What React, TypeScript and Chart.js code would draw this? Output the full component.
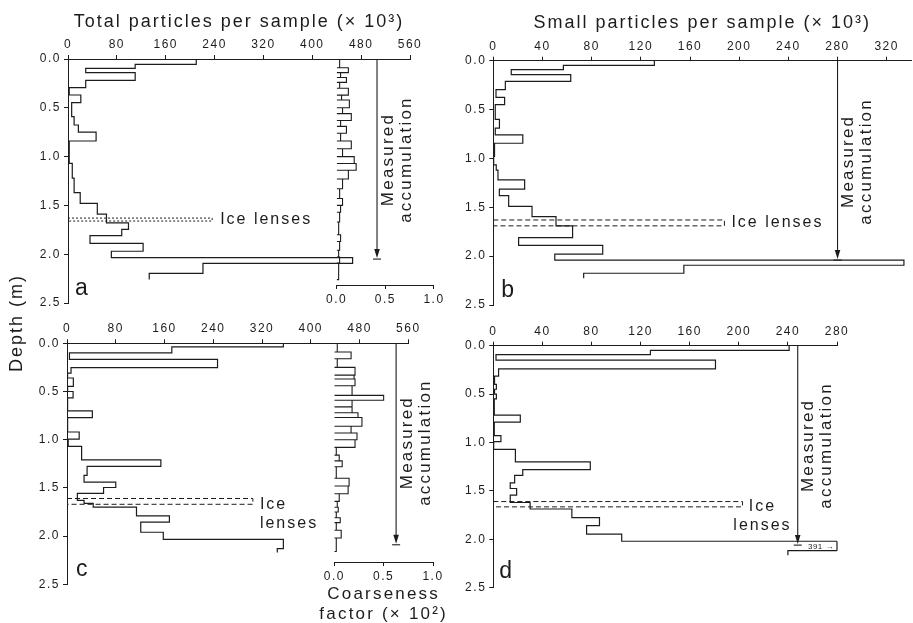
import React, { useEffect, useRef } from 'react';
import { Chart, registerables } from 'chart.js';
Chart.register(...registerables);

// ---------------- data ----------------
// Panel a: total particles per sample (x10^3) by depth interval (m)
const aBounds = [0, 0.055, 0.096, 0.14, 0.22, 0.294, 0.369, 0.447, 0.59, 0.676, 0.75, 0.84, 1.07, 1.22, 1.37, 1.48, 1.59, 1.68, 1.745, 1.81, 1.89, 1.97, 2.035, 2.093, 2.196, 2.26];
const aTotal = [210, 110, 29, 110, 29, 2, 21, 6, 10, 17, 46, 2, 7, 10, 20, 48, 63, 99, 88, 36, 123, 71, 466, 221, 133];
// Panel a: coarseness factor (x10^2)
const aCoarseBounds = [0, 0.09, 0.14, 0.19, 0.24, 0.30, 0.37, 0.42, 0.50, 0.56, 0.63, 0.69, 0.76, 0.84, 0.92, 1.00, 1.07, 1.14, 1.23, 1.33, 1.43, 1.50, 1.57, 1.67, 1.80, 1.87, 1.96, 2.03, 2.09, 2.26];
const aCoarse = [0.03, 0.12, 0.04, 0.10, 0.03, 0.12, 0.05, 0.13, 0.06, 0.15, 0.04, 0.10, 0.04, 0.15, 0.06, 0.18, 0.20, 0.12, 0.06, 0.03, 0.06, 0.04, 0.03, 0.02, 0.04, 0.03, 0.02, 0.03, 0.02];
// Panel b: small particles per sample
const bBounds = [0, 0.048, 0.092, 0.143, 0.212, 0.297, 0.376, 0.45, 0.60, 0.69, 0.76, 0.845, 0.98, 1.066, 1.12, 1.22, 1.315, 1.38, 1.49, 1.595, 1.69, 1.81, 1.89, 1.98, 2.04, 2.093, 2.175, 2.227];
const bSmall = [131, 57, 14.6, 63, 9.8, 2.2, 9.2, 1.6, 5, 1.6, 24, 1, 0.3, 2.4, 3.8, 25.5, 4.9, 12.5, 31.5, 51, 64.5, 20.6, 89, 50, 334, 155, 73.5];
// Panel c: total particles per sample
const cBounds = [0, 0.038, 0.099, 0.167, 0.253, 0.31, 0.36, 0.447, 0.5, 0.567, 0.70, 0.77, 0.92, 0.994, 1.07, 1.21, 1.277, 1.37, 1.44, 1.496, 1.557, 1.63, 1.66, 1.70, 1.79, 1.855, 1.96, 2.035, 2.13, 2.17];
const cTotal = [355, 172, 4, 247, 6.6, 1, 10.4, 1, 10, 1, 41.6, 1, 20, 2, 24, 154, 33, 28, 80, 60, 17, 28, 43, 114, 168, 121, 158, 355, 345];
// Panel c: coarseness factor
const cCoarseBounds = [0, 0.09, 0.16, 0.25, 0.33, 0.37, 0.44, 0.54, 0.59, 0.66, 0.72, 0.77, 0.86, 0.93, 1.00, 1.08, 1.16, 1.22, 1.28, 1.40, 1.48, 1.56, 1.64, 1.70, 1.75, 1.81, 1.86, 1.94, 2.02, 2.16];
const cCoarse = [0.03, 0.17, 0.03, 0.21, 0.20, 0.21, 0.18, 0.50, 0.18, 0.18, 0.24, 0.28, 0.17, 0.23, 0.21, 0.02, 0.05, 0.08, 0.02, 0.15, 0.14, 0.05, 0.03, 0.04, 0.02, 0.06, 0.02, 0.07, 0.02];
// Panel d: small particles per sample
const dBounds = [0, 0.048, 0.092, 0.15, 0.239, 0.314, 0.40, 0.45, 0.50, 0.55, 0.717, 0.79, 0.93, 0.99, 1.07, 1.20, 1.28, 1.34, 1.417, 1.475, 1.544, 1.62, 1.687, 1.776, 1.858, 1.947, 2.02, 2.118, 2.165];
const dSmall = [241, 128, 2.2, 181, 4.3, 1, 2.5, 1, 2.5, 0.8, 22, 0.8, 6.2, 0.3, 18, 79, 24, 17.4, 13.8, 19, 13.8, 30, 64, 86.5, 76, 104.6, 391, 240];

// axes
const totalAxis = { max: 560, step: 80 };
const smallAxisB = { max: 340, step: 40 };
const smallAxisD = { max: 280, step: 40 };
const depthAxis = { max: 2.5, step: 0.5 };
const coarseAxis = { max: 1, step: 0.5 };

// annotations (values in data units)
const iceA = [1.63, 1.66], iceEndA = 236;
const iceB = [1.63, 1.69], iceEndB = 188;
const iceC = [1.61, 1.67], iceEndC = 305;
const iceD = [1.61, 1.665], iceEndD = 203;
const accumA = { value: 506, depth: 2.05 };
const accumB = { value: 280, depth: 2.04 };
const accumC = { value: 540, depth: 2.09 };
const accumD = { value: 248, depth: 2.06 };

// ---------------- layout / style ----------------
const W = 913, H = 623;
const FONT = "'Liberation Sans', Arial, Helvetica, sans-serif";
const INK = '#1c1c1c';
const YW = 45, XH = 30, CXH = 25;
type Area = { l: number; t: number; r: number; b: number };
const AREA_A: Area = { l: 68, t: 59, r: 410, b: 303 };
const AREA_A2: Area = { l: 336.7, t: 59, r: 434, b: 285 };
const AREA_B: Area = { l: 493.3, t: 60.7, r: 911.3, b: 305 };
const AREA_C: Area = { l: 67, t: 343.3, r: 408.3, b: 584.3 };
const AREA_C2: Area = { l: 334.3, t: 343.3, r: 433, b: 562 };
const AREA_D: Area = { l: 493.3, t: 345.7, r: 837, b: 587.7 };

function stepPoints(bounds: number[], vals: number[]) {
  const pts: { x: number; y: number }[] = [];
  vals.forEach((v, i) => { pts.push({ x: v, y: bounds[i] }, { x: v, y: bounds[i + 1] }); });
  return pts;
}
function barPoints(bounds: number[], vals: number[]) {
  const pts: { x: number; y: number }[] = [];
  vals.forEach((v, i) => {
    pts.push({ x: 0, y: bounds[i] }, { x: v, y: bounds[i] }, { x: v, y: bounds[i + 1] }, { x: 0, y: bounds[i + 1] });
  });
  return pts;
}

function axisStyle() {
  return {
    grid: { drawOnChartArea: false, drawTicks: true, tickLength: 4, color: INK, lineWidth: 1 },
    border: { display: true, color: INK, width: 1 },
  };
}
const tickFont = () => ({ family: FONT, size: 12 });

function text(ctx: any, s: string, x: number, y: number, size: number, align: string = 'left', spacing = 2, rotate = false, baseline = 'middle') {
  ctx.save();
  ctx.font = `${size}px ${FONT}`;
  ctx.fillStyle = INK;
  ctx.letterSpacing = `${spacing}px`;
  ctx.textAlign = align;
  ctx.textBaseline = baseline;
  if (rotate) {
    ctx.translate(x, y);
    ctx.rotate(-Math.PI / 2);
    ctx.fillText(s, 0, 0);
  } else {
    ctx.fillText(s, x, y);
  }
  ctx.restore();
}

function drawIce(chart: any, d: number[], vEnd: number, dash: number[]) {
  const { ctx, scales: { x, y } } = chart;
  const x0 = x.getPixelForValue(0), x1 = x.getPixelForValue(vEnd);
  const y1 = y.getPixelForValue(d[0]), y2 = y.getPixelForValue(d[1]);
  ctx.save();
  ctx.strokeStyle = INK;
  ctx.lineWidth = 1;
  ctx.setLineDash(dash);
  ctx.beginPath();
  ctx.moveTo(x0, y1); ctx.lineTo(x1, y1); ctx.lineTo(x1, y2); ctx.lineTo(x0, y2);
  ctx.stroke();
  ctx.restore();
  return { x: x1, y: (y1 + y2) / 2 };
}

function drawAccum(chart: any, a: { value: number; depth: number }) {
  const { ctx, scales: { x, y } } = chart;
  const px = x.getPixelForValue(a.value);
  const yTop = y.getPixelForValue(0), yBot = y.getPixelForValue(a.depth);
  ctx.save();
  ctx.strokeStyle = INK; ctx.fillStyle = INK; ctx.lineWidth = 1.1;
  ctx.beginPath(); ctx.moveTo(px, yTop); ctx.lineTo(px, yBot - 6); ctx.stroke();
  ctx.beginPath(); ctx.moveTo(px - 2.8, yBot - 10); ctx.lineTo(px + 2.8, yBot - 10); ctx.lineTo(px, yBot - 1); ctx.closePath(); ctx.fill();
  ctx.beginPath(); ctx.moveTo(px - 4, yBot); ctx.lineTo(px + 4, yBot); ctx.stroke();
  ctx.restore();
  const yc = y.getPixelForValue(1.03);
  text(ctx, 'Measured', px + 11, yc, 17, 'center', 2.2, true);
  text(ctx, 'accumulation', px + 29, yc, 17, 'center', 2.2, true);
}

function mainChart(canvas: HTMLCanvasElement, area: Area, ax: { max: number; step: number }, pts: any[], draw: (c: any) => void) {
  return new Chart(canvas, {
    type: 'line',
    data: { datasets: [{ data: pts, borderColor: INK, borderWidth: 1.2, pointRadius: 0, fill: false, tension: 0 }] },
    options: {
      responsive: false, animation: false, events: [],
      layout: { autoPadding: false, padding: { left: area.l - YW, top: area.t - XH, right: W - area.r, bottom: H - area.b } },
      plugins: { legend: { display: false }, tooltip: { enabled: false } },
      scales: {
        x: {
          type: 'linear', position: 'top', min: 0, max: ax.max,
          afterFit: (s: any) => { s.height = XH; },
          ticks: { stepSize: ax.step, includeBounds: false, autoSkip: false, maxRotation: 0, padding: 3, color: INK, font: tickFont(), callback: (v: any) => String(v) },
          ...axisStyle(),
        },
        y: {
          type: 'linear', position: 'left', reverse: true, min: 0, max: depthAxis.max,
          afterFit: (s: any) => { s.width = YW; },
          ticks: { stepSize: depthAxis.step, autoSkip: false, padding: 3, color: INK, font: tickFont(), callback: (v: any) => Number(v).toFixed(1) },
          ...axisStyle(),
        },
      },
    } as any,
    plugins: [{ id: 'annot', beforeDraw: (c: any) => { c.ctx.letterSpacing = '1.5px'; }, afterDraw: (c: any) => draw(c) }],
  });
}

function coarseChart(canvas: HTMLCanvasElement, area: Area, yMax: number, pts: any[], draw?: (c: any) => void) {
  return new Chart(canvas, {
    type: 'line',
    data: { datasets: [{ data: pts, borderColor: INK, borderWidth: 1.1, pointRadius: 0, fill: false, tension: 0 }] },
    options: {
      responsive: false, animation: false, events: [],
      layout: { autoPadding: false, padding: { left: area.l, top: area.t, right: W - area.r, bottom: H - area.b - CXH } },
      plugins: { legend: { display: false }, tooltip: { enabled: false } },
      scales: {
        x: {
          type: 'linear', position: 'bottom', min: 0, max: coarseAxis.max,
          afterFit: (s: any) => { s.height = CXH; },
          ticks: { stepSize: coarseAxis.step, autoSkip: false, maxRotation: 0, padding: 3, color: INK, font: tickFont(), callback: (v: any) => Number(v).toFixed(1) },
          ...axisStyle(),
        },
        y: { type: 'linear', display: false, reverse: true, min: 0, max: yMax },
      },
    } as any,
    plugins: [{ id: 'annot', beforeDraw: (c: any) => { c.ctx.letterSpacing = '1.5px'; }, afterDraw: (c: any) => { if (draw) draw(c); } }],
  });
}

export default function App() {
  const r0 = useRef<HTMLCanvasElement>(null);
  const r1 = useRef<HTMLCanvasElement>(null);
  const r2 = useRef<HTMLCanvasElement>(null);
  const r3 = useRef<HTMLCanvasElement>(null);
  const r4 = useRef<HTMLCanvasElement>(null);
  const r5 = useRef<HTMLCanvasElement>(null);
  const refs = [r0, r1, r2, r3, r4, r5];

  useEffect(() => {
    const charts: Chart[] = [];
    // panel a
    charts.push(mainChart(r0.current!, AREA_A, totalAxis, stepPoints(aBounds, aTotal), (c) => {
      const ca = c.chartArea;
      text(c.ctx, 'Total particles per sample (× 10³)', (ca.left + ca.right) / 2, ca.top - 37, 18, 'center', 2);
      text(c.ctx, 'Depth (m)', ca.left - 51, ca.bottom + 20, 18, 'center', 2, true);
      text(c.ctx, 'a', ca.left + 7, ca.bottom - 8, 23, 'left', 0, false, 'alphabetic');
      const ice = drawIce(c, iceA, iceEndA, [2, 2]);
      text(c.ctx, 'Ice lenses', ice.x + 8, ice.y, 16, 'left', 2);
      drawAccum(c, accumA);
    }));
    charts.push(coarseChart(r1.current!, AREA_A2, (AREA_A2.b - AREA_A2.t) / ((AREA_A.b - AREA_A.t) / depthAxis.max), barPoints(aCoarseBounds, aCoarse)));
    // panel b
    charts.push(mainChart(r2.current!, AREA_B, smallAxisB, stepPoints(bBounds, bSmall), (c) => {
      const ca = c.chartArea;
      text(c.ctx, 'Small particles per sample (× 10³)', (ca.left + ca.right) / 2, ca.top - 38, 18, 'center', 2);
      text(c.ctx, 'b', ca.left + 8, ca.bottom - 8, 23, 'left', 0, false, 'alphabetic');
      const ice = drawIce(c, iceB, iceEndB, [5, 3]);
      text(c.ctx, 'Ice lenses', ice.x + 7, ice.y, 16, 'left', 2);
      drawAccum(c, accumB);
    }));
    // panel c
    charts.push(mainChart(r3.current!, AREA_C, totalAxis, stepPoints(cBounds, cTotal), (c) => {
      const ca = c.chartArea;
      text(c.ctx, 'c', ca.left + 9, ca.bottom - 8, 23, 'left', 0, false, 'alphabetic');
      const ice = drawIce(c, iceC, iceEndC, [5, 3]);
      text(c.ctx, 'Ice', ice.x + 7, ice.y + 3, 16, 'left', 2);
      text(c.ctx, 'lenses', ice.x + 7, ice.y + 22, 16, 'left', 2);
      drawAccum(c, accumC);
    }));
    charts.push(coarseChart(r4.current!, AREA_C2, (AREA_C2.b - AREA_C2.t) / ((AREA_C.b - AREA_C.t) / depthAxis.max), barPoints(cCoarseBounds, cCoarse), (c) => {
      const ca = c.chartArea;
      const cx = (ca.left + ca.right) / 2;
      text(c.ctx, 'Coarseness', cx, ca.bottom + 32, 17, 'center', 2.2);
      text(c.ctx, 'factor (× 10²)', cx, ca.bottom + 52, 17, 'center', 2.2);
    }));
    // panel d
    charts.push(mainChart(r5.current!, AREA_D, smallAxisD, stepPoints(dBounds, dSmall), (c) => {
      const ca = c.chartArea;
      const { ctx, scales: { x, y } } = c;
      text(ctx, 'd', ca.left + 6, ca.bottom - 10, 23, 'left', 0, false, 'alphabetic');
      const ice = drawIce(c, iceD, iceEndD, [5, 3]);
      text(ctx, 'Ice', ice.x + 20, ice.y + 2, 16, 'center', 2);
      text(ctx, 'lenses', ice.x + 20, ice.y + 21, 16, 'center', 2);
      drawAccum(c, accumD);
      // off-scale bar closing edge and value label
      dSmall.forEach((v, i) => {
        if (v > smallAxisD.max) {
          const px = x.getPixelForValue(smallAxisD.max);
          const y1 = y.getPixelForValue(dBounds[i]), y2 = y.getPixelForValue(dBounds[i + 1]);
          ctx.save(); ctx.strokeStyle = INK; ctx.lineWidth = 1.2;
          ctx.beginPath(); ctx.moveTo(px, y1); ctx.lineTo(px, y2); ctx.stroke(); ctx.restore();
          text(ctx, `${v} →`, px - 3, (y1 + y2) / 2 + 0.5, 8, 'right', 0.5);
        }
      });
    }));
    return () => charts.forEach((ch) => ch.destroy());
  }, []);

  return (
    <div style={{ position: 'fixed', left: 0, top: 0, width: W, height: H, background: '#fff' }}>
      {refs.map((r, i) => (
        <canvas key={i} ref={r} width={W} height={H} style={{ position: 'absolute', left: 0, top: 0 }} />
      ))}
    </div>
  );
}
